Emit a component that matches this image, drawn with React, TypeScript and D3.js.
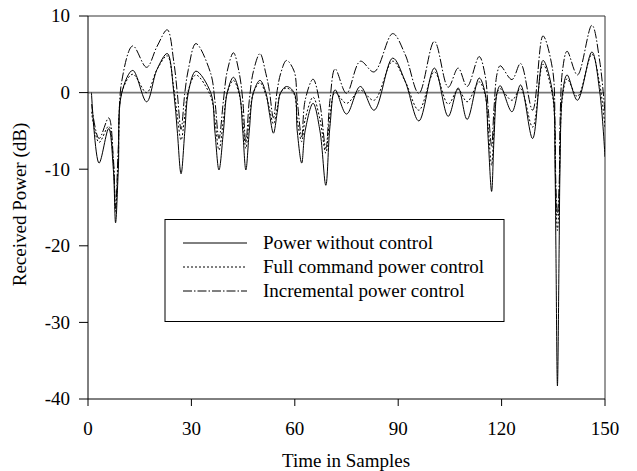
import React from "react";
import * as d3 from "d3";

const samples = [1, 3.2, 6, 7.35, 8, 8.8, 9.8, 13, 17, 20, 23, 24.9, 25.9, 27, 28.1, 29.1, 31.3, 35.6, 36.8, 38, 39.3, 40.4, 42.2, 43.9, 44.9, 45.8, 46.8, 48, 49.9, 51.6, 52.6, 53.8, 54.9, 55.9, 57.6, 59.8, 60.7, 62, 63, 65.3, 67.3, 69, 70.2, 71.7, 75, 79, 83, 88.4, 92, 96, 100.5, 104.5, 107.4, 110, 113.5, 115.2, 116.1, 117.1, 117.8, 118.7, 119.6, 123, 125.5, 129, 132, 134.8, 135.5, 135.75, 136.2, 136.7, 136.95, 137.7, 139, 142, 146.2, 148.5, 150];

const withoutControl = [0, -9.2, -4.7, -10, -17, -10, 0, 2.9, -1.2, 3, 5.1, 0, -5, -10.6, -5, 0, 2.8, 0, -5, -10.1, -5, 0, 2.0, 0, -5, -10.1, -5, 0, 1.6, 0, -2.6, -5.3, -2.6, 0, 0.8, 0, -5, -9.2, -5, -1.4, -5, -12.1, -4.4, 0.35, -2.8, 0.8, -2.3, 4.5, 1.5, -3.7, 3.2, -3.1, 0.6, -3.5, 1.9, 0, -6, -12.9, -6, 0, 0.9, -2.5, 1.0, -6, 4.2, 0, -10, -20, -38.3, -20, -10, 0, 2.3, -1, 5.3, 0, -8.4];

const fullCommand = [-2.5, -6.5, -4.4, -9, -15.5, -8.5, 0, 2.4, 0, 3, 4.8, 0.5, -3, -6.2, -3, 0.3, 2.3, -0.5, -3.5, -7.5, -3.5, 0, 1.6, -0.3, -3.5, -7.3, -3.5, 0, 1.3, -0.3, -2, -4.1, -2, 0, 0.6, -0.2, -3.5, -6.4, -3.5, -0.6, -3.5, -7.9, -3, 0, -1.4, 0.3, -1, 4.1, 1.5, -2.3, 2.7, -1.5, 0.4, -1.2, 1.4, -0.3, -4.5, -9.5, -4.5, 0, 0.5, -1, 0.5, -4.5, 3.7, -0.5, -7, -14, -18, -14, -7, -0.5, 1.8, -0.5, 5.0, 1, -4.5];

const incremental = [-1.5, -6, -3.3, -8.5, -15, -7, 1.5, 6.1, 3.3, 6, 8.2, 4, 0, -4.8, 0, 3, 6.4, 2.5, -1, -6, -1, 2.8, 5.2, 2.5, -1, -6.5, -1, 2.8, 5.1, 2.5, 0.3, -3.3, 0.3, 2.5, 4.2, 2.8, -1, -5.8, -1, 1.75, -1.5, -7.3, -1, 3.1, -0.1, 4.1, 2.7, 7.7, 5, -0.1, 6.7, 0.7, 3.2, 0.8, 4.7, 2.3, -2, -7, -2, 2.5, 3.5, 1.7, 3.8, -2.3, 7.4, 3, -4, -12, -16, -12, -4, 3, 5.4, 2.3, 8.8, 4, -2.7];

const xTicks = [0, 30, 60, 90, 120, 150];
const yTicks = [10, 0, -10, -20, -30, -40];

const seriesNames = ["Power without control", "Full command power control", "Incremental power control"];
const seriesValues = [withoutControl, fullCommand, incremental];
const dashes = ["none", "2,2", "9,2,1.5,2"];

const W = 637;
const H = 471;
const L = 88, R = 605, T = 16, B = 399;
const FONT = "'Liberation Serif', 'Times New Roman', serif";

export default function App() {
  const x = d3.scaleLinear().domain([0, 150]).range([L, R]);
  const y = d3.scaleLinear().domain([-40, 10]).range([B, T]);
  const line = d3
    .line<number>()
    .x((_, i) => x(samples[i]))
    .y((d) => y(d))
    .curve(d3.curveCatmullRom.alpha(0.5));

  return (
    <svg width={W} height={H} style={{ position: "absolute", left: 0, top: 0, background: "#fff" }} fontFamily={FONT}>
      <defs>
        <clipPath id="plot">
          <rect x={L} y={T} width={R - L} height={B - T} />
        </clipPath>
      </defs>
      {/* frame */}
      <line x1={L} x2={R} y1={T} y2={T} stroke="#777" strokeWidth={1.5} />
      <line x1={R} x2={R} y1={T} y2={B} stroke="#333" strokeWidth={1} />
      {/* zero line */}
      <line x1={L} x2={R} y1={y(0)} y2={y(0)} stroke="#777" strokeWidth={1.6} />
      {/* series */}
      <g clipPath="url(#plot)">
        {seriesValues.map((vals, i) => (
          <path key={i} d={line(vals) || ""} fill="none" stroke="#000" strokeWidth={1} strokeDasharray={dashes[i]} />
        ))}
      </g>
      {/* axes */}
      <line x1={L} x2={L} y1={T} y2={B} stroke="#000" strokeWidth={1} />
      <line x1={L} x2={R} y1={B} y2={B} stroke="#000" strokeWidth={1} />
      {yTicks.map((t) => (
        <g key={"y" + t}>
          <line x1={L - 9} x2={L} y1={y(t)} y2={y(t)} stroke="#000" />
          <text x={70} y={y(t)} dy="0.34em" textAnchor="end" fontSize={19}>
            {t}
          </text>
        </g>
      ))}
      {xTicks.map((t) => (
        <g key={"x" + t}>
          <line x1={x(t)} x2={x(t)} y1={B} y2={B + 7} stroke="#000" />
          <text x={x(t)} y={435} textAnchor="middle" fontSize={19}>
            {t}
          </text>
        </g>
      ))}
      <text x={346} y={467} textAnchor="middle" fontSize={19}>
        Time in Samples
      </text>
      <text transform={`translate(26, ${(T + B) / 2 - 3}) rotate(-90)`} textAnchor="middle" fontSize={19}>
        Received Power (dB)
      </text>
      {/* legend */}
      <rect x={165} y={219.5} width={339} height={102} fill="#fff" stroke="#000" strokeWidth={1} />
      {seriesNames.map((n, i) => {
        const ly = 243 + i * 24;
        return (
          <g key={n}>
            <line x1={183} x2={247} y1={ly} y2={ly} stroke="#000" strokeDasharray={dashes[i]} />
            <text x={263} y={ly} dy="0.34em" fontSize={19}>
              {n}
            </text>
          </g>
        );
      })}
    </svg>
  );
}
